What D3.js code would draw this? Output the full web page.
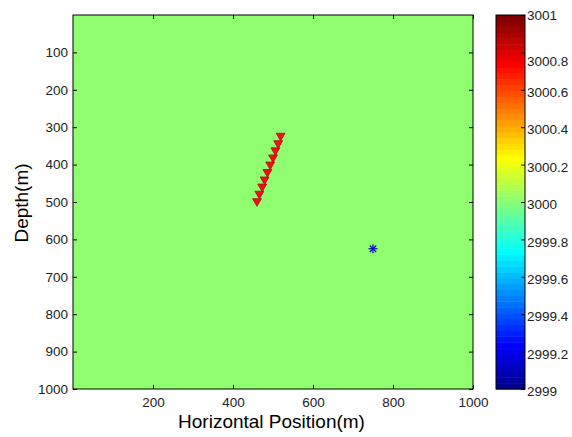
<!DOCTYPE html>
<html>
<head>
<meta charset="utf-8">
<script src="https://cdn.jsdelivr.net/npm/d3@7"></script>
<style>
  body { margin: 0; background: #fff; }
  text { font-family: "Liberation Sans", Arial, sans-serif; }
</style>
</head>
<body>
<svg id="chart"></svg>
<script>
var screen = {width:572, height:437}
var margins = {top:15, left:73}
var plot = {width:400, height:374}

// velocity field (uniform), receivers and source
var fieldValue = 3000
var receiverX = [460, 466, 473, 479, 486, 493, 500, 506, 513, 519]
var receiverZ = [498, 478, 459, 440, 420, 400, 381, 362, 343, 323]
var sourceX = [750]
var sourceZ = [625]
var xTicks = [200, 400, 600, 800, 1000]
var yTicks = [100, 200, 300, 400, 500, 600, 700, 800, 900, 1000]
var cbarTicks = [2999, 2999.2, 2999.4, 2999.6, 2999.8, 3000, 3000.2, 3000.4, 3000.6, 3000.8, 3001]
var cbarDomain = [2999, 3001]

// MATLAB style jet(64)
var jet = function(m)
{
  var n = Math.ceil(m/4)
  var u = []
  for (var i = 1; i <= n; i++) u.push(i/n)
  for (var i = 1; i < n; i++) u.push(1)
  for (var i = n; i >= 1; i--) u.push(i/n)
  var off = Math.ceil(n/2) - (m % 4 == 1 ? 1 : 0)
  var map = []
  for (var i = 0; i < m; i++) map.push([0,0,0])
  u.forEach(function(v, k)
  {
    var g = off + k + 1, r = g + n, b = g - n
    if (g >= 1 && g <= m) map[g-1][1] = v
    if (r >= 1 && r <= m) map[r-1][0] = v
    if (b >= 1 && b <= m) map[b-1][2] = v
  })
  return map.map(function(c){ return d3.rgb(c[0]*255, c[1]*255, c[2]*255).toString() })
}
var colors = jet(64)
var colorScale = d3.scaleQuantize().domain(cbarDomain).range(colors)

var svg = d3.select("#chart")
  .attr("width", screen.width)
  .attr("height", screen.height)

var xScale = d3.scaleLinear().domain([0,1000]).range([0, plot.width])
var yScale = d3.scaleLinear().domain([0,1000]).range([0, plot.height])

var g = svg.append("g")
  .attr("transform", "translate("+margins.left+","+margins.top+")")

g.append("rect")
  .attr("width", plot.width)
  .attr("height", plot.height)
  .attr("fill", colorScale(fieldValue))

// receivers
var tri = d3.symbol().type(d3.symbolTriangle).size(34)
g.selectAll(".rec")
  .data(receiverX)
  .enter()
  .append("path")
  .attr("class", "rec")
  .attr("d", tri)
  .attr("transform", function(d, i)
  {
    return "translate("+xScale(d)+","+yScale(receiverZ[i])+") rotate(180)"
  })
  .attr("fill", "#e8141c")
  .attr("stroke", "#c0000a")
  .attr("stroke-width", 0.8)

// source asterisk
sourceX.forEach(function(sx, i)
{
  var cx = xScale(sx), cy = yScale(sourceZ[i]), r = 4.5
  var s = g.append("g").attr("transform", "translate("+cx+","+cy+")")
  ;[0, 45, 90, 135].forEach(function(a)
  {
    s.append("line")
      .attr("x1", -r).attr("x2", r)
      .attr("transform", "rotate("+a+")")
      .attr("stroke", "#1010c8")
      .attr("stroke-width", 1.3)
  })
})

var tickStyle = function(sel)
{
  sel.select(".domain").remove()
  sel.selectAll("line").attr("stroke", "#000")
  sel.selectAll("text")
    .attr("fill", "#222")
    .style("font-size", "13.5px")
}

g.append("g")
  .attr("transform", "translate(0,"+plot.height+")")
  .call(d3.axisBottom(xScale).tickValues(xTicks).tickSizeInner(-4).tickSizeOuter(0).tickPadding(8).tickFormat(d3.format("d")))
  .call(tickStyle)
g.append("g")
  .call(d3.axisTop(xScale).tickValues(xTicks).tickSizeInner(-4).tickSizeOuter(0).tickFormat(""))
  .call(tickStyle)
g.append("g")
  .call(d3.axisLeft(yScale).tickValues(yTicks).tickSizeInner(-4).tickSizeOuter(0).tickPadding(5).tickFormat(d3.format("d")))
  .call(tickStyle)
g.append("g")
  .attr("transform", "translate("+plot.width+",0)")
  .call(d3.axisRight(yScale).tickValues(yTicks).tickSizeInner(-4).tickSizeOuter(0).tickFormat(""))
  .call(tickStyle)

g.append("rect")
  .attr("width", plot.width)
  .attr("height", plot.height)
  .attr("fill", "none")
  .attr("stroke", "#000")
  .attr("stroke-width", 1)

// axis titles
svg.append("text")
  .attr("x", 271.5)
  .attr("y", 428)
  .attr("text-anchor", "middle")
  .style("font-size", "19px")
  .text("Horizontal Position(m)")
svg.append("text")
  .attr("transform", "translate(28,203) rotate(-90)")
  .attr("text-anchor", "middle")
  .style("font-size", "19px")
  .text("Depth(m)")

// colorbar
var cbar = {x:496, width:29}
var cScale = d3.scaleLinear().domain(cbarDomain).range([margins.top+plot.height, margins.top])
var cb = svg.append("g")
var step = (cbarDomain[1]-cbarDomain[0])/colors.length
cb.selectAll("rect")
  .data(colors)
  .enter()
  .append("rect")
  .attr("x", cbar.x)
  .attr("width", cbar.width)
  .attr("y", function(c, i){ return cScale(cbarDomain[0]+(i+1)*step) })
  .attr("height", function(c, i){ return cScale(cbarDomain[0]+i*step) - cScale(cbarDomain[0]+(i+1)*step) + 0.5 })
  .attr("fill", function(c){ return c })

cb.append("g")
  .attr("transform", "translate("+(cbar.x+cbar.width)+",0)")
  .call(d3.axisRight(cScale).tickValues(cbarTicks).tickSizeInner(-4).tickSizeOuter(0).tickPadding(2)
        .tickFormat(function(d){ return d3.format("~f")(+d.toFixed(1)) }))
  .call(tickStyle)
  .selectAll("text")
  .attr("dy", function(d)
  {
    if (d == 3001) return "0.35em"
    if (d == 3000.8) return "1.0em"
    return "0.5em"
  })

cb.append("rect")
  .attr("x", cbar.x)
  .attr("y", margins.top)
  .attr("width", cbar.width)
  .attr("height", plot.height)
  .attr("fill", "none")
  .attr("stroke", "#000")
</script>
</body>
</html>
